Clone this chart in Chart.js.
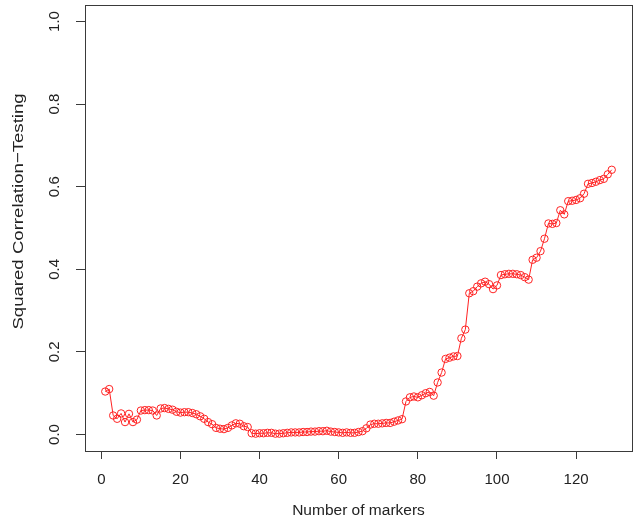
<!DOCTYPE html>
<html>
<head>
<meta charset="utf-8">
<script src="https://cdn.jsdelivr.net/npm/chart.js@4/dist/chart.umd.min.js"></script>
<style>
    html, body { margin: 0; padding: 0; background: #fff; }
    #wrap { width: 637px; height: 523px; }
</style>
</head>
<body>
<div id="wrap"><canvas id="corrChart" width="637" height="523"></canvas></div>
<script>
// Number of markers (x)
const markers = [
    1, 2, 3, 4, 5, 6, 7, 8, 9, 10, 11, 12, 13, 14, 15, 16, 17, 18, 19, 20,
    21, 22, 23, 24, 25, 26, 27, 28, 29, 30, 31, 32, 33, 34, 35, 36, 37, 38, 39, 40,
    41, 42, 43, 44, 45, 46, 47, 48, 49, 50, 51, 52, 53, 54, 55, 56, 57, 58, 59, 60,
    61, 62, 63, 64, 65, 66, 67, 68, 69, 70, 71, 72, 73, 74, 75, 76, 77, 78, 79, 80,
    81, 82, 83, 84, 85, 86, 87, 88, 89, 90, 91, 92, 93, 94, 95, 96, 97, 98, 99, 100,
    101, 102, 103, 104, 105, 106, 107, 108, 109, 110, 111, 112, 113, 114, 115, 116, 117, 118, 119, 120,
    121, 122, 123, 124, 125, 126, 127, 128, 129
];

// Squared correlation on the testing set (y)
const sqCorr = [
    0.104, 0.110, 0.046, 0.038, 0.051, 0.030, 0.050, 0.030, 0.036, 0.058,
    0.059, 0.059, 0.058, 0.046, 0.063, 0.064, 0.062, 0.060, 0.055, 0.053,
    0.054, 0.054, 0.052, 0.049, 0.044, 0.038, 0.030, 0.025, 0.016, 0.014,
    0.013, 0.016, 0.022, 0.027, 0.026, 0.020, 0.018, 0.003, 0.002, 0.003,
    0.003, 0.004, 0.004, 0.002, 0.002, 0.003, 0.004, 0.005, 0.005, 0.005,
    0.006, 0.006, 0.007, 0.007, 0.008, 0.008, 0.009, 0.007, 0.006, 0.005,
    0.004, 0.005, 0.004, 0.004, 0.006, 0.008, 0.015, 0.024, 0.026, 0.026,
    0.027, 0.028, 0.028, 0.031, 0.034, 0.037, 0.080, 0.090, 0.092, 0.090,
    0.095, 0.100, 0.103, 0.094, 0.126, 0.150, 0.183, 0.186, 0.189, 0.190,
    0.233, 0.254, 0.342, 0.347, 0.358, 0.366, 0.370, 0.364, 0.352, 0.361,
    0.386, 0.388, 0.389, 0.389, 0.388, 0.386, 0.381, 0.375, 0.423, 0.428,
    0.444, 0.474, 0.511, 0.510, 0.512, 0.543, 0.533, 0.565, 0.566, 0.568,
    0.572, 0.583, 0.607, 0.609, 0.612, 0.616, 0.619, 0.630, 0.641
];

const xTicks = [0, 20, 40, 60, 80, 100, 120];
const yTicks = [0.0, 0.2, 0.4, 0.6, 0.8, 1.0];
const yTickLabels = ["0.0", "0.2", "0.4", "0.6", "0.8", "1.0"];
const yTitle = "Squared Correlation\u2212Testing";

const axisColor = "#3a3a3a";
const textColor = "#222";
const fontFamily = "'Liberation Sans', Arial, Helvetica, sans-serif";

// R style box around the plot region, rotated y tick labels and y title
const rBoxPlugin = {
    id: "rBox",
    afterDraw(chart) {
        const { ctx, chartArea, scales } = chart;
        ctx.save();
        ctx.strokeStyle = axisColor;
        ctx.lineWidth = 1;
        ctx.strokeRect(Math.round(chartArea.left) + 0.5, Math.round(chartArea.top) + 0.5,
            Math.round(chartArea.right - chartArea.left), Math.round(chartArea.bottom - chartArea.top));

        ctx.fillStyle = textColor;
        ctx.font = "15px " + fontFamily;
        ctx.textAlign = "center";
        ctx.textBaseline = "middle";
        scales.y.ticks.forEach((t, i) => {
            const py = scales.y.getPixelForValue(t.value);
            ctx.save();
            ctx.translate(scales.y.right - 30, py);
            ctx.rotate(-Math.PI / 2);
            ctx.fillText(yTickLabels[i], 0, 0);
            ctx.restore();
        });

        // y axis title (sits a little above the plot centre in the original)
        ctx.save();
        ctx.font = "15.5px " + fontFamily;
        ctx.translate(19, scales.y.getPixelForValue(0.54));
        ctx.rotate(-Math.PI / 2);
        ctx.scale(1.2, 1);
        ctx.fillText(yTitle, 0, 0);
        ctx.restore();
        ctx.restore();
    }
};

document.addEventListener("DOMContentLoaded", () => {
    const ctx = document.getElementById("corrChart").getContext("2d");
    new Chart(ctx, {
        type: "scatter",
        data: {
            datasets: [{
                label: yTitle,
                data: markers.map((m, i) => ({ x: m, y: sqCorr[i] })),
                showLine: true,
                borderColor: "#ff2222",
                borderWidth: 1,
                pointRadius: 3.7,
                pointBorderWidth: 1,
                pointBackgroundColor: "rgba(0,0,0,0)",
                pointBorderColor: "#ff2222",
                tension: 0
            }]
        },
        options: {
            responsive: false,
            animation: false,
            layout: { padding: { top: 3, right: 3, left: 0, bottom: 0 } },
            plugins: {
                legend: { display: false },
                tooltip: { enabled: false }
            },
            scales: {
                x: {
                    type: "linear",
                    min: -4.12,
                    max: 134.12,
                    afterBuildTicks: scale => { scale.ticks = xTicks.map(v => ({ value: v })); },
                    afterFit: scale => { scale.height = 72; },
                    grid: {
                        drawOnChartArea: false,
                        drawTicks: true,
                        tickLength: 8,
                        color: axisColor
                    },
                    border: { display: false },
                    ticks: {
                        color: textColor,
                        padding: 12,
                        maxRotation: 0,
                        font: { family: fontFamily, size: 15 }
                    },
                    title: {
                        display: true,
                        text: "Number of markers",
                        color: textColor,
                        font: { family: fontFamily, size: 15.5 },
                        padding: { top: 0, bottom: 3 }
                    }
                },
                y: {
                    min: -0.04,
                    max: 1.04,
                    afterBuildTicks: scale => { scale.ticks = yTicks.map(v => ({ value: v })); },
                    afterFit: scale => { scale.width = 85; },
                    grid: {
                        drawOnChartArea: false,
                        drawTicks: true,
                        tickLength: 9,
                        color: axisColor
                    },
                    border: { display: false },
                    ticks: { display: false },
                    title: { display: false }
                }
            }
        },
        plugins: [rBoxPlugin]
    });
});
</script>
</body>
</html>
